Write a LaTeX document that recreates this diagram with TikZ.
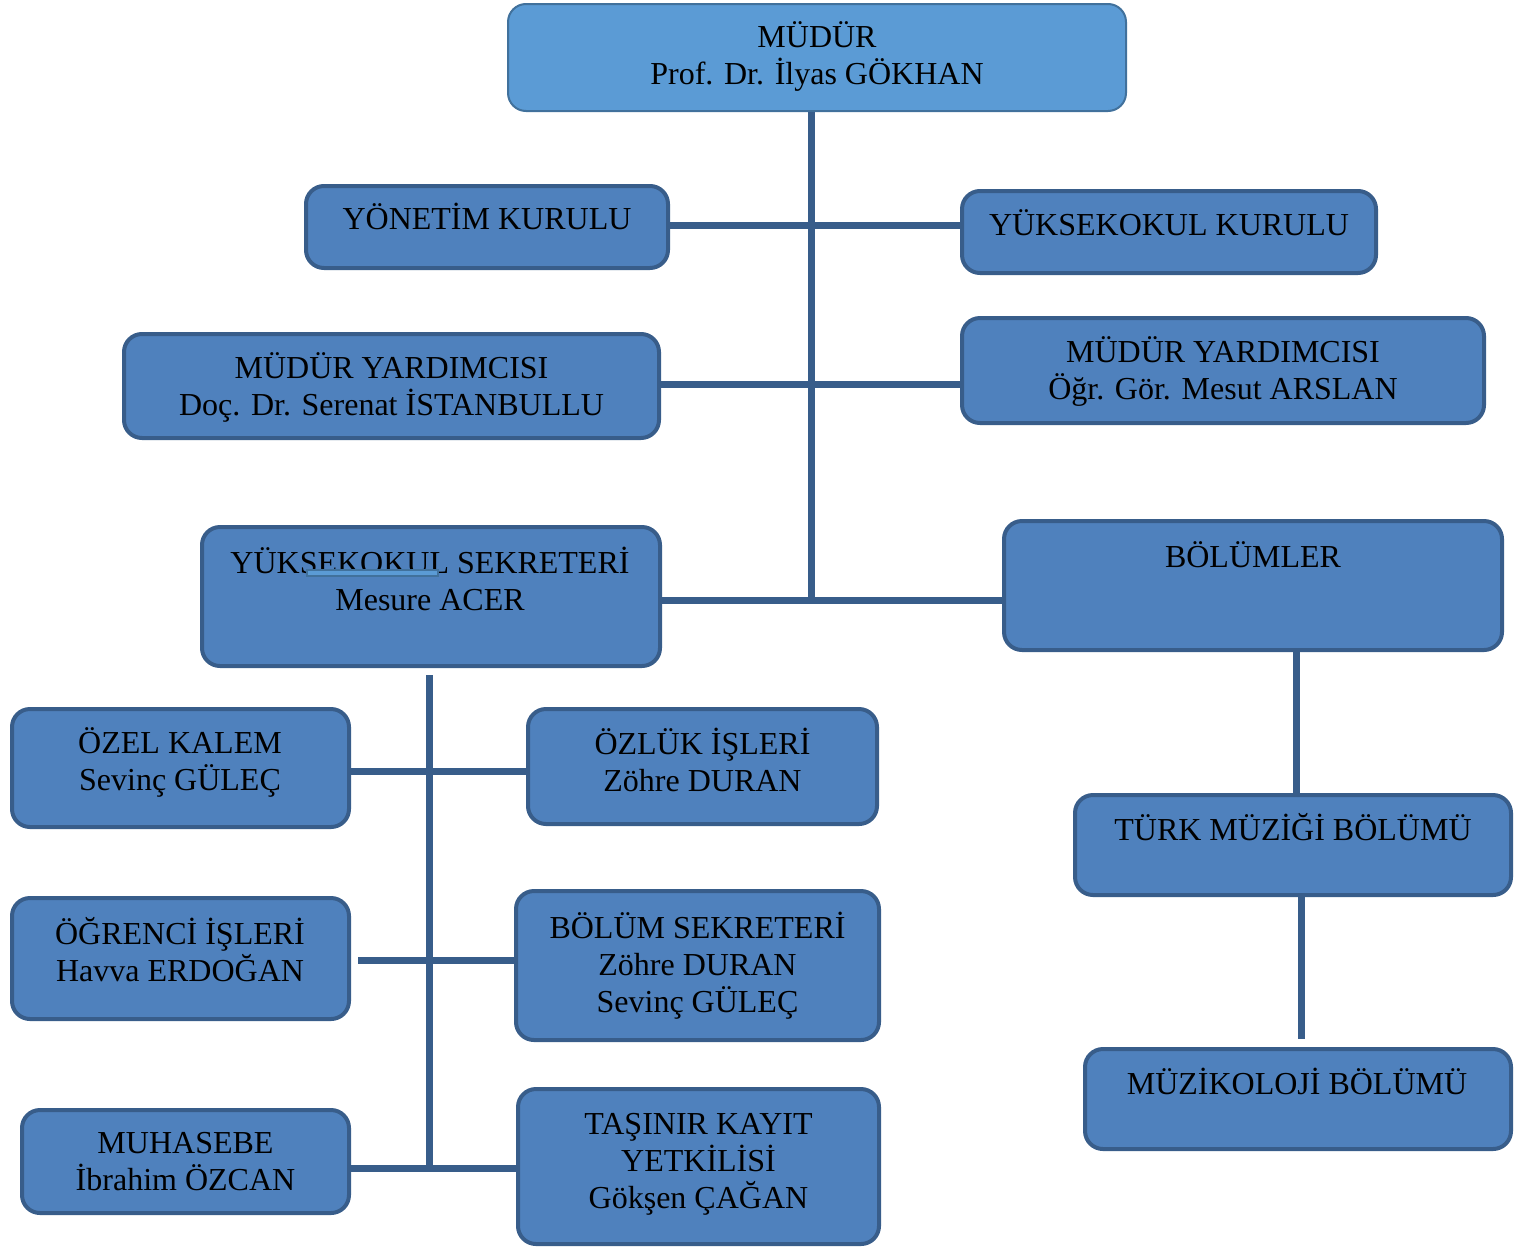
\documentclass[tikz,border=0pt]{standalone}
\usepackage{fontspec}
\setmainfont{Liberation Serif}
\usetikzlibrary{fit}
\definecolor{boxfill}{HTML}{4F81BD}
\definecolor{boxline}{HTML}{385D8A}
\definecolor{topfill}{HTML}{5B9BD5}
\definecolor{topline}{HTML}{41719C}
\begin{document}
\begin{tikzpicture}[x=0.5pt,y=-0.5pt,
  obox/.style={draw=boxline, fill=boxfill, line width=2pt, rounded corners=9pt, inner sep=0pt},
  topbox/.style={obox, draw=topline, fill=topfill, line width=1pt},
  txt/.style={align=center, inner sep=0pt, font=\fontsize{16}{18.5}\selectfont,
    execute at begin node=\strut, execute at end node=\strut},
  conn/.style={draw=boxline, line width=3.5pt}]
\useasboundingbox (0,0) rectangle (1540,1253);
% boxes
\node[topbox, fit={(508,4)(1126,111)}] (mudur) {};
\node[txt] (mudur-t) at (817,58.2) {MÜDÜR\\Prof. Dr. İlyas GÖKHAN};
\node[obox, fit={(306,186)(668,268)}] (yon) {};
\node[txt] (yon-t) at (487,222.2) {YÖNETİM KURULU};
\node[obox, fit={(962,191)(1376,273)}] (yuk) {};
\node[txt] (yuk-t) at (1169,228.2) {YÜKSEKOKUL KURULU};
\node[obox, fit={(124,334)(659,438)}] (myl) {};
\node[txt] (myl-t) at (391.5,389.7) {MÜDÜR YARDIMCISI\\Doç. Dr. Serenat İSTANBULLU};
\node[obox, fit={(962,318)(1484,423)}] (myr) {};
\node[txt] (myr-t) at (1223,373.7) {MÜDÜR YARDIMCISI\\Öğr. Gör. Mesut ARSLAN};
\node[obox, fit={(202,527)(660,666)}] (sek) {};
\node[txt] (sek-t) at (430,584.7) {YÜKSEKOKUL SEKRETERİ\\Mesure ACER};
\node[obox, fit={(1004,521)(1502,650)}] (bol) {};
\node[txt] (bol-t) at (1253,560.2) {BÖLÜMLER};
\node[obox, fit={(12,709)(349,827)}] (ozel) {};
\node[txt] (ozel-t) at (180,764.7) {ÖZEL KALEM\\Sevinç GÜLEÇ};
\node[obox, fit={(528,709)(877,824)}] (ozluk) {};
\node[txt] (ozluk-t) at (702.5,765.7) {ÖZLÜK İŞLERİ\\Zöhre DURAN};
\node[obox, fit={(12,898)(349,1019)}] (ogr) {};
\node[txt] (ogr-t) at (180,955.2) {ÖĞRENCİ İŞLERİ\\Havva ERDOĞAN};
\node[obox, fit={(516,891)(879,1040)}] (bsek) {};
\node[txt] (bsek-t) at (697.5,967.7) {BÖLÜM SEKRETERİ\\Zöhre DURAN\\Sevinç GÜLEÇ};
\node[obox, fit={(22,1110)(349,1213)}] (muh) {};
\node[txt] (muh-t) at (185.5,1166.7) {MUHASEBE\\İbrahim ÖZCAN};
\node[obox, fit={(518,1089)(879,1244)}] (tas) {};
\node[txt] (tas-t) at (698.5,1166.2) {TAŞINIR KAYIT\\YETKİLİSİ\\Gökşen ÇAĞAN};
\node[obox, fit={(1075,795)(1511,895)}] (turk) {};
\node[txt] (turk-t) at (1293,832.2) {TÜRK MÜZİĞİ BÖLÜMÜ};
\node[obox, fit={(1085,1049)(1511,1149)}] (muz) {};
\node[txt] (muz-t) at (1297,1087.2) {MÜZİKOLOJİ BÖLÜMÜ};
% small stray mark in the secretary box
\draw[fill=topfill, draw=topline, line width=0.6pt] (307,570) rectangle (438,576);
% connectors
\coordinate (spx) at (811,0);
\coordinate (j1) at (811,225);
\coordinate (j2) at (811,384);
\coordinate (j3) at (811,600);
\coordinate (spend) at (811,604);
\draw[conn] (mudur.south -| spx) -- (spend);
\draw[conn] (yon.east |- j1) -- (yuk.west |- j1);
\draw[conn] (myl.east |- j2) -- (myr.west |- j2);
\draw[conn] (sek.east |- j3) -- (bol.west |- j3);
\coordinate (kx) at (429,0);
\coordinate (k1) at (429,771);
\coordinate (k2) at (429,960);
\coordinate (k3) at (429,1168);
\coordinate (kend) at (429,1172);
\draw[conn, shorten <=3.5pt] (sek.south -| kx) -- (kend);
\draw[conn] (ozel.east |- k1) -- (ozluk.west |- k1);
\draw[conn, shorten <=3.5pt] (ogr.east |- k2) -- (bsek.west |- k2);
\draw[conn] (muh.east |- k3) -- (tas.west |- k3);
\coordinate (bx) at (1296,0);
\draw[conn] (bol.south -| bx) -- (turk.north -| bx);
\coordinate (tx) at (1301,0);
\draw[conn, shorten >=4pt] (turk.south -| tx) -- (muz.north -| tx);
\end{tikzpicture}
\end{document}
